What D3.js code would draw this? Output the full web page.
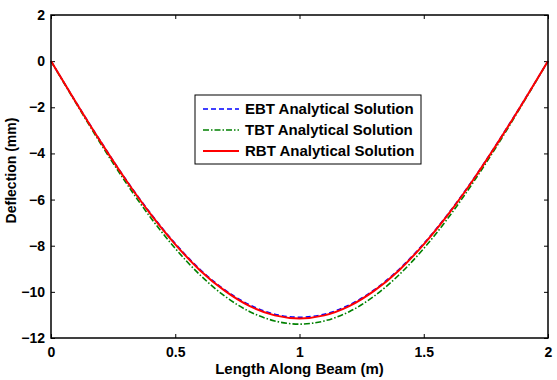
<!DOCTYPE html>
<meta charset="utf-8">
<style>
    body { margin: 0; background: #fff; }
    text { font-family: Arial, "Liberation Sans", sans-serif; font-weight: bold; }
</style>
<svg width="557" height="380"></svg>
<script src="https://d3js.org/d3.v7.min.js"></script>
<script>

    // positions along the beam (m)
    var xs = [0, 0.1, 0.2, 0.3, 0.4, 0.5, 0.6, 0.7, 0.8, 0.9, 1.0,
        1.1, 1.2, 1.3, 1.4, 1.5, 1.6, 1.7, 1.8, 1.9, 2.0];

    // deflection (mm)
    var ebt = [0, -1.77, -3.48, -5.11, -6.59, -7.91, -9.03, -9.92, -10.57, -10.97, -11.10,
        -10.97, -10.57, -9.92, -9.03, -7.91, -6.59, -5.11, -3.48, -1.77, 0];
    var tbt = [0, -1.81, -3.58, -5.24, -6.77, -8.12, -9.27, -10.19, -10.86, -11.26, -11.40,
        -11.26, -10.86, -10.19, -9.27, -8.12, -6.77, -5.24, -3.58, -1.81, 0];
    var rbt = [0, -1.78, -3.50, -5.13, -6.62, -7.94, -9.07, -9.96, -10.62, -11.02, -11.15,
        -11.02, -10.62, -9.96, -9.07, -7.94, -6.62, -5.13, -3.50, -1.78, 0];

    var xTicks = [0, 0.5, 1, 1.5, 2];
    var yTicks = [2, 0, -2, -4, -6, -8, -10, -12];

    var series = [
        { name: "EBT Analytical Solution", values: ebt, color: "#0000ff", dash: "5,3", width: 1.6 },
        { name: "TBT Analytical Solution", values: tbt, color: "#008000", dash: "6,2,1.5,2", width: 1.6 },
        { name: "RBT Analytical Solution", values: rbt, color: "#ff0000", dash: null, width: 2 }
    ];

    var svg = d3.select("svg"),
        margin = { top: 15, right: 9, bottom: 42, left: 51 },
        width = +svg.attr("width") - margin.left - margin.right,
        height = +svg.attr("height") - margin.top - margin.bottom,
        g = svg.append("g").attr("transform", "translate(" + margin.left + "," + margin.top + ")");

    var x = d3.scaleLinear().domain([0, 2]).range([0, width]),
        y = d3.scaleLinear().domain([-12, 2]).range([height, 0]);

    // ticks point inward, mirrored on top and right
    g.append("g")
        .attr("transform", "translate(0," + height + ")")
        .call(d3.axisBottom(x).tickValues(xTicks).tickSize(-4).tickPadding(9).tickFormat(d3.format("")))
        .call(a => a.select(".domain").remove())
        .call(a => a.selectAll("text").attr("font-size", 14).attr("fill", "#000").attr("font-family", null));
    g.append("g")
        .call(d3.axisTop(x).tickValues(xTicks).tickSize(-4).tickFormat(""))
        .call(a => a.select(".domain").remove());
    g.append("g")
        .call(d3.axisLeft(y).tickValues(yTicks).tickSize(-4).tickPadding(6))
        .call(a => a.select(".domain").remove())
        .call(a => a.selectAll("text").attr("font-size", 14).attr("fill", "#000").attr("font-family", null));
    g.append("g")
        .attr("transform", "translate(" + width + ",0)")
        .call(d3.axisRight(y).tickValues(yTicks).tickSize(-4).tickFormat(""))
        .call(a => a.select(".domain").remove());

    g.selectAll(".tick line").attr("stroke", "#000").attr("stroke-width", 1);

    var line = d3.line()
        .curve(d3.curveMonotoneX)
        .x(function (d, i) { return x(xs[i]); })
        .y(function (d) { return y(d); });

    g.selectAll(".series")
        .data(series)
        .enter().append("path")
        .attr("class", "series")
        .attr("fill", "none")
        .attr("stroke", d => d.color)
        .attr("stroke-width", d => d.width)
        .attr("stroke-dasharray", d => d.dash)
        .attr("d", d => line(d.values));

    // frame
    g.append("rect")
        .attr("width", width)
        .attr("height", height)
        .attr("fill", "none")
        .attr("stroke", "#000")
        .attr("stroke-width", 1.5);

    // legend
    var lg = svg.append("g").attr("transform", "translate(195,95)");
    lg.append("rect")
        .attr("width", 226)
        .attr("height", 69)
        .attr("fill", "#fff")
        .attr("stroke", "#000")
        .attr("stroke-width", 1);
    var item = lg.selectAll(".item")
        .data(series)
        .enter().append("g")
        .attr("transform", (d, i) => "translate(0," + (14 + i * 21) + ")");
    item.append("line")
        .attr("x1", 8).attr("x2", 44)
        .attr("stroke", d => d.color)
        .attr("stroke-width", d => d.width)
        .attr("stroke-dasharray", d => d.dash);
    item.append("text")
        .attr("x", 50)
        .attr("dy", "0.35em")
        .attr("font-size", 15)
        .text(d => d.name);

    // axis titles
    svg.append("text")
        .attr("x", margin.left + width / 2)
        .attr("y", 374)
        .attr("text-anchor", "middle")
        .attr("font-size", 15)
        .text("Length Along Beam (m)");
    svg.append("text")
        .attr("transform", "translate(16," + (margin.top + height / 2 - 6) + ") rotate(-90)")
        .attr("text-anchor", "middle")
        .attr("font-size", 14)
        .text("Deflection (mm)");

</script>
